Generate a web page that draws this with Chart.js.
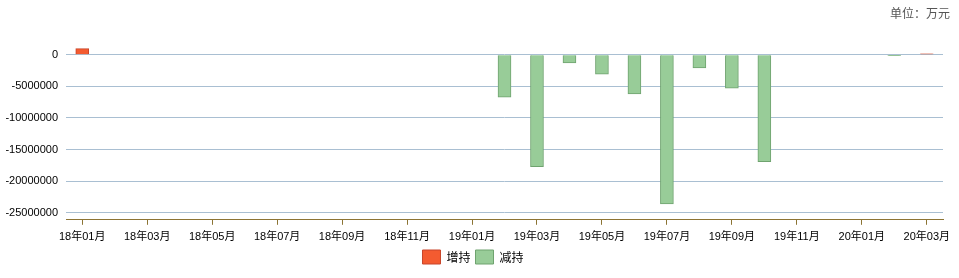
<!DOCTYPE html>
<html>
<head>
<meta charset="utf-8">
<script src="https://cdn.jsdelivr.net/npm/chart.js@4/dist/chart.umd.min.js"></script>
<style>
  html, body { margin: 0; padding: 0; background: #fff; }
  #wrap { width: 959px; height: 278px; }
</style>
</head>
<body>
<div id="wrap"><canvas id="myChart"></canvas></div>
<script>
var months = ['18年01月','18年02月','18年03月','18年04月','18年05月','18年06月','18年07月','18年08月','18年09月',
              '18年10月','18年11月','18年12月','19年01月','19年02月','19年03月','19年04月','19年05月','19年06月',
              '19年07月','19年08月','19年09月','19年10月','19年11月','19年12月','20年01月','20年02月','20年03月'];
var zengchi = [950000,null,null,null,null,null,null,null,null,null,null,null,null,null,null,null,null,null,
               null,null,null,null,null,null,null,null,120000];
var jianchi = [null,null,null,null,null,null,null,null,null,null,null,null,null,-6700000,-17700000,-1300000,-3100000,-6200000,
               -23600000,-2100000,-5300000,-16900000,null,null,null,-150000,null];
var yTicks = [0,-5000000,-10000000,-15000000,-20000000,-25000000];
var unitText = '单位：万元';

var axisBrown = '#8c7434';
var tickFont = { family: '"Liberation Sans", "Noto Sans CJK SC", sans-serif', size: 11 };

// 单位 text in the top right corner
var unitPlugin = {
    id: 'unitText',
    afterDraw: function (chart) {
        var c = chart.ctx;
        c.save();
        c.font = '12px "Noto Sans CJK SC"';
        c.fillStyle = '#555';
        c.textAlign = 'right';
        c.textBaseline = 'middle';
        c.fillText(unitText, 950, 13);
        c.restore();
    }
};

var ctx = document.getElementById('myChart').getContext('2d');
var myChart = new Chart(ctx, {
    type: 'bar',
    data: {
        labels: months,
        datasets: [{
            label: '增持',
            data: zengchi,
            backgroundColor: '#f45b30',
            borderColor: '#c8452a',
            borderWidth: 1,
            barThickness: 13
        }, {
            label: '减持',
            data: jianchi,
            backgroundColor: '#98cc98',
            borderColor: '#6fa36f',
            borderWidth: 1,
            barThickness: 13
        }]
    },
    plugins: [unitPlugin],
    options: {
        responsive: true,
        maintainAspectRatio: false,
        animation: false,
        layout: { padding: { left: 3, right: 16, top: 42, bottom: 4 } },
        plugins: {
            legend: {
                position: 'bottom',
                labels: {
                    boxWidth: 18,
                    boxHeight: 14,
                    color: '#000',
                    padding: 5,
                    font: { family: '"Noto Sans CJK SC"', size: 12 }
                }
            },
            tooltip: { enabled: false }
        },
        scales: {
            x: {
                stacked: true,
                offset: true,
                afterFit: function (axis) { axis.height = axis.height - 5; },
                border: { display: true, color: axisBrown, width: 1 },
                grid: {
                    display: true,
                    offset: false,
                    drawOnChartArea: false,
                    tickLength: 5,
                    tickColor: function (c) { return c.index % 2 === 0 ? axisBrown : 'rgba(0,0,0,0)'; }
                },
                ticks: {
                    autoSkip: false,
                    maxRotation: 0,
                    color: '#000',
                    padding: 6,
                    font: tickFont,
                    callback: function (v, i) { return i % 2 === 0 ? this.getLabelForValue(v) : ''; }
                }
            },
            y: {
                stacked: true,
                min: -26100000,
                max: 2000000,
                afterBuildTicks: function (axis) {
                    axis.ticks = yTicks.map(function (v) { return { value: v }; });
                },
                afterFit: function (axis) { axis.width = 63; },
                border: { display: false },
                grid: { color: '#a9bfd2', drawTicks: false },
                ticks: {
                    color: '#000',
                    padding: 8,
                    font: tickFont,
                    callback: function (v) { return String(v); }
                }
            }
        }
    }
});
</script>
</body>
</html>
